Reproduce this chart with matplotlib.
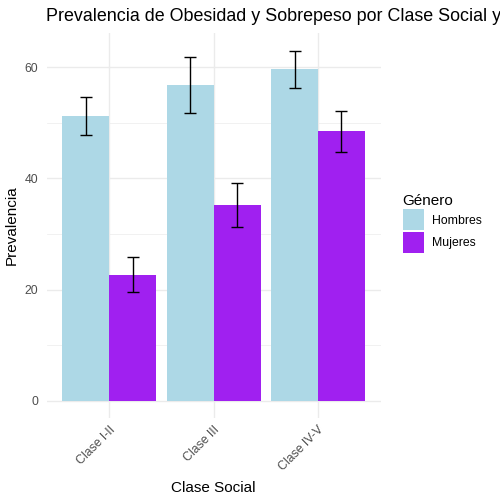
import matplotlib
matplotlib.use("Agg")
import matplotlib.pyplot as plt
import numpy as np
from matplotlib.patches import Patch

plt.rcParams['font.family'] = ['Liberation Sans', 'DejaVu Sans']

clases = ["Clase I-II", "Clase III", "Clase IV-V"]
generos = ["Hombres", "Mujeres"]
hombres = [51.2, 56.8, 59.7]
hombres_lo = [47.8, 51.7, 56.2]
hombres_hi = [54.7, 61.8, 63.0]
mujeres = [22.6, 35.2, 48.5]
mujeres_lo = [19.5, 31.2, 44.7]
mujeres_hi = [25.9, 39.1, 52.1]
colores = ["#ADD8E6", "#A020F0"]

fig = plt.figure(figsize=(5, 5), dpi=100)
ax = fig.add_axes([0.0934, 0.1636, 0.6678, 0.7704])

x = np.arange(len(clases))
w = 0.45
series = [(hombres, hombres_lo, hombres_hi), (mujeres, mujeres_lo, mujeres_hi)]
for i, (vals, lo, hi) in enumerate(series):
    pos = x + (i - 0.5) * w
    ax.bar(pos, vals, width=w, color=colores[i], zorder=2, linewidth=0)
    vals_a = np.array(vals); lo_a = np.array(lo); hi_a = np.array(hi)
    ax.errorbar(pos, vals_a, yerr=[vals_a - lo_a, hi_a - vals_a], fmt='none',
                ecolor='black', elinewidth=1.0, capsize=4.3, capthick=1.0, zorder=3)

ax.set_xlim(-0.6, 2.6)
ax.set_ylim(-3.15, 66.15)
ax.set_xticks(x)
ax.set_xticklabels(clases, rotation=45, ha='right', va='top', rotation_mode='anchor',
                   fontsize=8.8, color='#4D4D4D')
ax.set_yticks([0, 20, 40, 60])
ax.set_yticks([10, 30, 50], minor=True)
ax.tick_params(axis='y', labelsize=8.8, labelcolor='#4D4D4D', length=0, which='both', pad=6)
ax.tick_params(axis='x', length=0, pad=4)
ax.grid(True, which='major', color='#EBEBEB', linewidth=1.0, zorder=0)
ax.grid(True, which='minor', axis='y', color='#EBEBEB', linewidth=0.5, zorder=0)
ax.set_axisbelow(True)
for s in ax.spines.values():
    s.set_visible(False)

ax.set_xlabel("Clase Social", fontsize=11, labelpad=6)
ax.set_ylabel("Prevalencia", fontsize=11, labelpad=4.5)

fig.text(0.093, 0.967, "Prevalencia de Obesidad y Sobrepeso por Clase Social y Género",
         fontsize=12.85, ha='left', va='center')

handles = [Patch(facecolor=c, edgecolor='none') for c in colores]
leg = fig.legend(handles, generos, title="Género", loc='upper left',
                 bbox_to_anchor=(0.805, 0.612), frameon=False, fontsize=8.8,
                 title_fontsize=11, handlelength=1.75, handleheight=2.3,
                 labelspacing=0.1, handletextpad=0.7, borderaxespad=0, borderpad=0)
leg._legend_box.align = "left"

fig.savefig("out.png", dpi=100)
